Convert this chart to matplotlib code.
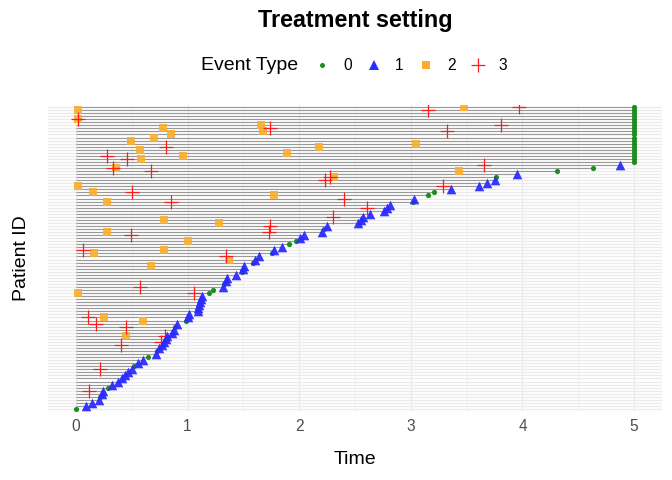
import numpy as np
import matplotlib
matplotlib.use("Agg")
import matplotlib.pyplot as plt
from matplotlib.lines import Line2D

plt.rcParams["font.family"] = ["Liberation Sans", "DejaVu Sans"]

# ─── Dati ─────────────────────────────────────────────────────────────────────
# durata per paziente (riga 1 = in basso), ordinata
end_time = [
    0.00, 0.09, 0.14, 0.21, 0.22, 0.23, 0.24, 0.29, 0.32, 0.38,
    0.41, 0.44, 0.47, 0.50, 0.52, 0.56, 0.60, 0.65, 0.72, 0.73,
    0.74, 0.77, 0.79, 0.81, 0.82, 0.86, 0.88, 0.89, 0.91, 0.99,
    1.00, 1.01, 1.09, 1.09, 1.10, 1.11, 1.12, 1.13, 1.19, 1.23,
    1.32, 1.33, 1.34, 1.35, 1.43, 1.49, 1.50, 1.51, 1.59, 1.60,
    1.64, 1.76, 1.77, 1.85, 1.91, 1.97, 2.01, 2.04, 2.20, 2.22,
    2.25, 2.53, 2.55, 2.57, 2.63, 2.76, 2.79, 2.81, 3.02, 3.03,
    3.15, 3.21, 3.36, 3.61, 3.68, 3.75, 3.76, 3.95, 4.31, 4.63,
    4.87, 5.00, 5.00, 5.00, 5.00, 5.00, 5.00, 5.00, 5.00, 5.00,
    5.00, 5.00, 5.00, 5.00, 5.00, 5.00, 5.00, 5.00, 5.00, 5.00,
]
# tipo evento finale: 0 = censurato, 1 = evento
end_type = [
    0, 1, 1, 1, 0, 1, 1, 0, 1, 1,
    1, 1, 1, 1, 0, 1, 1, 0, 1, 0,
    1, 1, 1, 1, 1, 1, 1, 0, 1, 0,
    1, 1, 1, 1, 1, 1, 1, 1, 0, 0,
    1, 0, 1, 1, 1, 0, 1, 1, 0, 1,
    1, 0, 1, 1, 0, 0, 1, 1, 1, 0,
    1, 1, 1, 1, 1, 1, 1, 1, 0, 1,
    0, 0, 1, 1, 1, 1, 0, 1, 0, 0,
    1, 0, 0, 0, 0, 0, 0, 0, 0, 0,
    0, 0, 0, 0, 0, 0, 0, 0, 0, 0,
]

# eventi intermedi tipo 2 (paziente, tempo)
ev2_id = [99, 96, 93, 90, 91, 89, 86, 83, 84, 80, 94, 92, 85, 87, 77, 74, 72,
          69, 71, 63, 62, 59, 56, 53, 52, 100, 88, 79, 50, 48, 39, 31, 30, 25]
ev2_t = [0.02, 0.02, 0.78, 0.70, 0.85, 0.49, 0.57, 0.58, 0.96, 0.36, 1.66, 1.68,
         1.89, 2.18, 2.31, 0.02, 0.15, 0.28, 1.77, 0.79, 1.28, 0.28, 1.00, 0.79,
         0.16, 3.48, 3.05, 3.43, 1.37, 0.67, 0.02, 0.25, 0.60, 0.45]

# eventi intermedi tipo 3 (paziente, tempo)
ev3_id = [96, 93, 87, 84, 83, 80, 79, 76, 77, 72, 69, 70, 64, 61, 59, 58, 53, 51,
          99, 100, 94, 92, 81, 74, 67, 41, 39, 31, 29, 28, 22, 23, 25, 14, 7]
ev3_t = [0.02, 1.74, 0.81, 0.28, 0.46, 0.33, 0.67, 2.23, 2.28, 0.50, 0.85, 2.40,
         2.30, 1.74, 1.73, 0.49, 0.06, 1.34, 3.15, 3.97, 3.81, 3.32, 3.66, 3.29,
         2.61, 0.57, 1.06, 0.11, 0.18, 0.45, 0.40, 0.76, 0.80, 0.22, 0.12]

event_labels = ["0", "1", "2", "3"]

# ─── Stile ────────────────────────────────────────────────────────────────────
C_GREEN = "#1E8C1E"
C_BLUE = "#2B2BFF"
C_ORANGE = "#FBAE2C"
C_RED = "#FF1A1A"
GRID = "#EBEBEB"

patient = np.arange(1, len(end_time) + 1)
end_time = np.array(end_time)
end_type = np.array(end_type)

fig = plt.figure(figsize=(6.72, 4.8), dpi=100)
ax = fig.add_axes([48 / 672, 1 - 410.8 / 480, 614 / 672, 305.6 / 480])

# griglia
ax.set_xlim(-0.25, 5.25)
ax.set_ylim(0.4, 100.6)
ax.set_xticks(range(6))
ax.set_xticks(np.arange(0.5, 5.0, 1.0), minor=True)
ax.set_yticks(patient)
ax.set_yticklabels([])
ax.grid(which="major", axis="both", color=GRID, linewidth=0.9, zorder=0)
ax.grid(which="minor", axis="x", color=GRID, linewidth=0.5, zorder=0)
ax.set_axisbelow(True)
ax.tick_params(axis="both", which="both", length=0)
ax.tick_params(axis="x", labelsize=11.2, labelcolor="#4D4D4D", pad=6)
for spine in ax.spines.values():
    spine.set_visible(False)

# barre dei pazienti
ax.hlines(patient, 0, end_time, color="#999999", linewidth=0.8, zorder=2)

# eventi intermedi
ax.scatter(ev2_t, ev2_id, marker="s", s=34, color=C_ORANGE, alpha=0.9,
           linewidths=0, zorder=3)
ax.scatter(ev3_t, ev3_id, marker="+", s=95, color=C_RED, linewidths=0.9,
           zorder=3)

# eventi finali
m0 = end_type == 0
m1 = end_type == 1
ax.scatter(end_time[m0], patient[m0], marker="o", s=14, color=C_GREEN,
           linewidths=0, zorder=4)
ax.scatter(end_time[m1], patient[m1], marker="^", s=48, color=C_BLUE,
           alpha=0.95, linewidths=0, zorder=4)

# testi
fig.text(355 / 672, 1 - 20 / 480, "Treatment setting", ha="center", va="center",
         fontsize=16.8, fontweight="bold")
fig.text(355 / 672, 1 - 460 / 480, "Time", ha="center", va="center", fontsize=14)
fig.text(22 / 672, 1 - 258 / 480, "Patient ID", ha="center", va="center",
         fontsize=14, rotation=90)

# legenda
handles = [
    Line2D([], [], marker="o", linestyle="", markersize=3.6, color=C_GREEN, markeredgewidth=0),
    Line2D([], [], marker="^", linestyle="", markersize=7, color=C_BLUE, markeredgewidth=0),
    Line2D([], [], marker="s", linestyle="", markersize=6, color=C_ORANGE, markeredgewidth=0),
    Line2D([], [], marker="+", linestyle="", markersize=10, color=C_RED, markeredgewidth=0.9),
]
fig.text(201 / 672, 1 - 66 / 480, "Event Type", ha="left", va="center", fontsize=14)
fig.legend(handles, event_labels, loc="center", bbox_to_anchor=(411 / 672, 1 - 66 / 480),
           ncol=4, frameon=False, fontsize=11.2, handlelength=1.0,
           handletextpad=0.83, columnspacing=0.95, borderpad=0)

fig.savefig("out.png", dpi=100, facecolor="white")
